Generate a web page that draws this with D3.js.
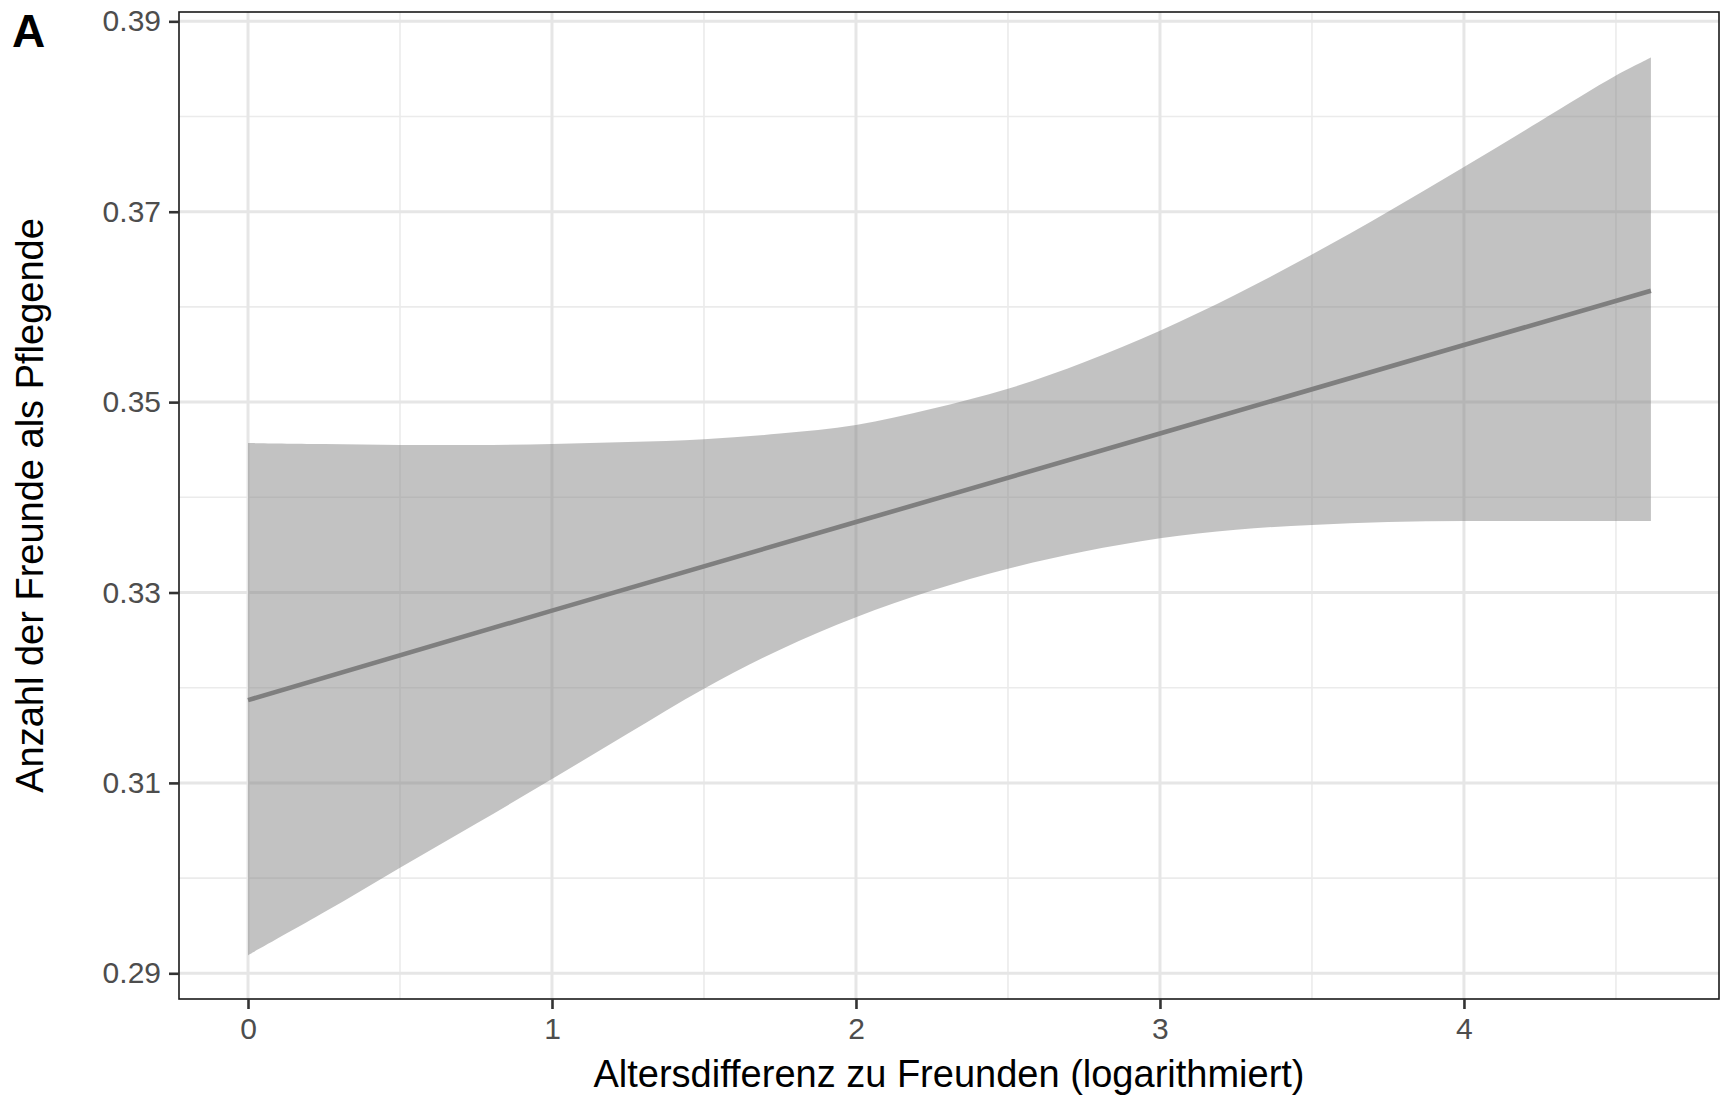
<!DOCTYPE html>
<html>
<head>
<meta charset="utf-8">
<script src="https://cdn.jsdelivr.net/npm/d3@7"></script>
<style>
  html, body { margin: 0; padding: 0; background: #ffffff; }
  svg { display: block; font-family: "Liberation Sans", Arial, sans-serif; }
</style>
</head>
<body>
<svg id="chart" width="1729" height="1099"></svg>
<script>
// ---- data ----
const bandX = [0, 0.25, 0.5, 0.75, 1, 1.25, 1.5, 1.75, 2, 2.25, 2.5, 2.75, 3, 3.25, 3.5, 3.75, 4, 4.25, 4.5, 4.615];
const bandUpper = [0.3457, 0.3456, 0.3455, 0.3455, 0.3456, 0.3458, 0.3461, 0.3467, 0.3476, 0.3493, 0.3514, 0.3542, 0.3575, 0.3613, 0.3655, 0.3700, 0.3747, 0.3795, 0.3843, 0.3862];
const bandLower = [0.2919, 0.2964, 0.3011, 0.3057, 0.3104, 0.3152, 0.3199, 0.3240, 0.3274, 0.3302, 0.3325, 0.3343, 0.3357, 0.3366, 0.3371, 0.3374, 0.3375, 0.3375, 0.3375, 0.3375];
const fitX = [0, 1, 2, 3, 4, 4.615];
const fitY = [0.3187, 0.3281, 0.3374, 0.3467, 0.3560, 0.3617];
const xTicks = [0, 1, 2, 3, 4];
const xMinor = [0.5, 1.5, 2.5, 3.5, 4.5];
const yTicks = [0.29, 0.31, 0.33, 0.35, 0.37, 0.39];
const yMinor = [0.30, 0.32, 0.34, 0.36, 0.38];
const panelTag = "A";
const xTitle = "Altersdifferenz zu Freunden (logarithmiert)";
const yTitle = "Anzahl der Freunde als Pflegende";

// ---- layout ----
const P = { left: 179, right: 1719, top: 12, bottom: 999 };
const svg = d3.select("#chart");

const x = d3.scaleLinear().domain([-0.227, 4.839]).range([P.left, P.right]);
const y = d3.scaleLinear().domain([0.2873, 0.39098]).range([P.bottom, P.top]);

// panel background
svg.append("rect").attr("x", P.left).attr("y", P.top)
  .attr("width", P.right - P.left).attr("height", P.bottom - P.top)
  .attr("fill", "#ffffff");

const grid = svg.append("g");
// minor grid
grid.selectAll(".ymin").data(yMinor).join("line")
  .attr("x1", P.left).attr("x2", P.right)
  .attr("y1", d => y(d)).attr("y2", d => y(d))
  .attr("stroke", "#EBEBEB").attr("stroke-width", 1.6);
grid.selectAll(".xmin").data(xMinor).join("line")
  .attr("y1", P.top).attr("y2", P.bottom)
  .attr("x1", d => x(d)).attr("x2", d => x(d))
  .attr("stroke", "#EBEBEB").attr("stroke-width", 1.6);
// major grid
grid.selectAll(".ymaj").data(yTicks).join("line")
  .attr("x1", P.left).attr("x2", P.right)
  .attr("y1", d => y(d)).attr("y2", d => y(d))
  .attr("stroke", "#E6E6E6").attr("stroke-width", 3);
grid.selectAll(".xmaj").data(xTicks).join("line")
  .attr("y1", P.top).attr("y2", P.bottom)
  .attr("x1", d => x(d)).attr("x2", d => x(d))
  .attr("stroke", "#E6E6E6").attr("stroke-width", 3);

// ribbon
const band = bandX.map((v, i) => ({ x: v, lo: bandLower[i], hi: bandUpper[i] }));
svg.append("path").datum(band)
  .attr("d", d3.area().x(d => x(d.x)).y0(d => y(d.lo)).y1(d => y(d.hi)).curve(d3.curveCatmullRom.alpha(0.5)))
  .attr("fill", "#808080").attr("fill-opacity", 0.48);

// fitted line
const fit = fitX.map((v, i) => ({ x: v, y: fitY[i] }));
svg.append("path").datum(fit)
  .attr("d", d3.line().x(d => x(d.x)).y(d => y(d.y)))
  .attr("fill", "none").attr("stroke", "#7F7F7F").attr("stroke-width", 4.6);

// panel border
svg.append("rect").attr("x", P.left).attr("y", P.top)
  .attr("width", P.right - P.left).attr("height", P.bottom - P.top)
  .attr("fill", "none").attr("stroke", "#1a1a1a").attr("stroke-width", 1.6);

// axes
const xAxis = d3.axisBottom(x).tickValues(xTicks).tickFormat(d3.format("d")).tickSize(10).tickPadding(9);
const gx = svg.append("g").attr("transform", `translate(0,${P.bottom})`).call(xAxis);
gx.select(".domain").remove();
gx.selectAll(".tick line").attr("stroke", "#333333").attr("stroke-width", 2.6);
gx.selectAll(".tick text").attr("fill", "#4D4D4D").attr("font-size", 30)
  .attr("font-family", "'Liberation Sans', Arial, sans-serif");

const yAxis = d3.axisLeft(y).tickValues(yTicks).tickFormat(d3.format(".2f")).tickSize(10).tickPadding(8);
const gy = svg.append("g").attr("transform", `translate(${P.left},0)`).call(yAxis);
gy.select(".domain").remove();
gy.selectAll(".tick line").attr("stroke", "#333333").attr("stroke-width", 2.6);
gy.selectAll(".tick text").attr("fill", "#4D4D4D").attr("font-size", 30)
  .attr("font-family", "'Liberation Sans', Arial, sans-serif");

// titles
svg.append("text").attr("x", (P.left + P.right) / 2).attr("y", 1087)
  .attr("text-anchor", "middle").attr("font-size", 38).attr("fill", "#000")
  .text(xTitle);
svg.append("text")
  .attr("transform", `translate(43,${(P.top + P.bottom) / 2}) rotate(-90)`)
  .attr("text-anchor", "middle").attr("font-size", 38).attr("fill", "#000")
  .text(yTitle);
svg.append("text").attr("x", 12).attr("y", 47)
  .attr("font-size", 46).attr("font-weight", "bold").attr("fill", "#000")
  .text(panelTag);
</script>
</body>
</html>
